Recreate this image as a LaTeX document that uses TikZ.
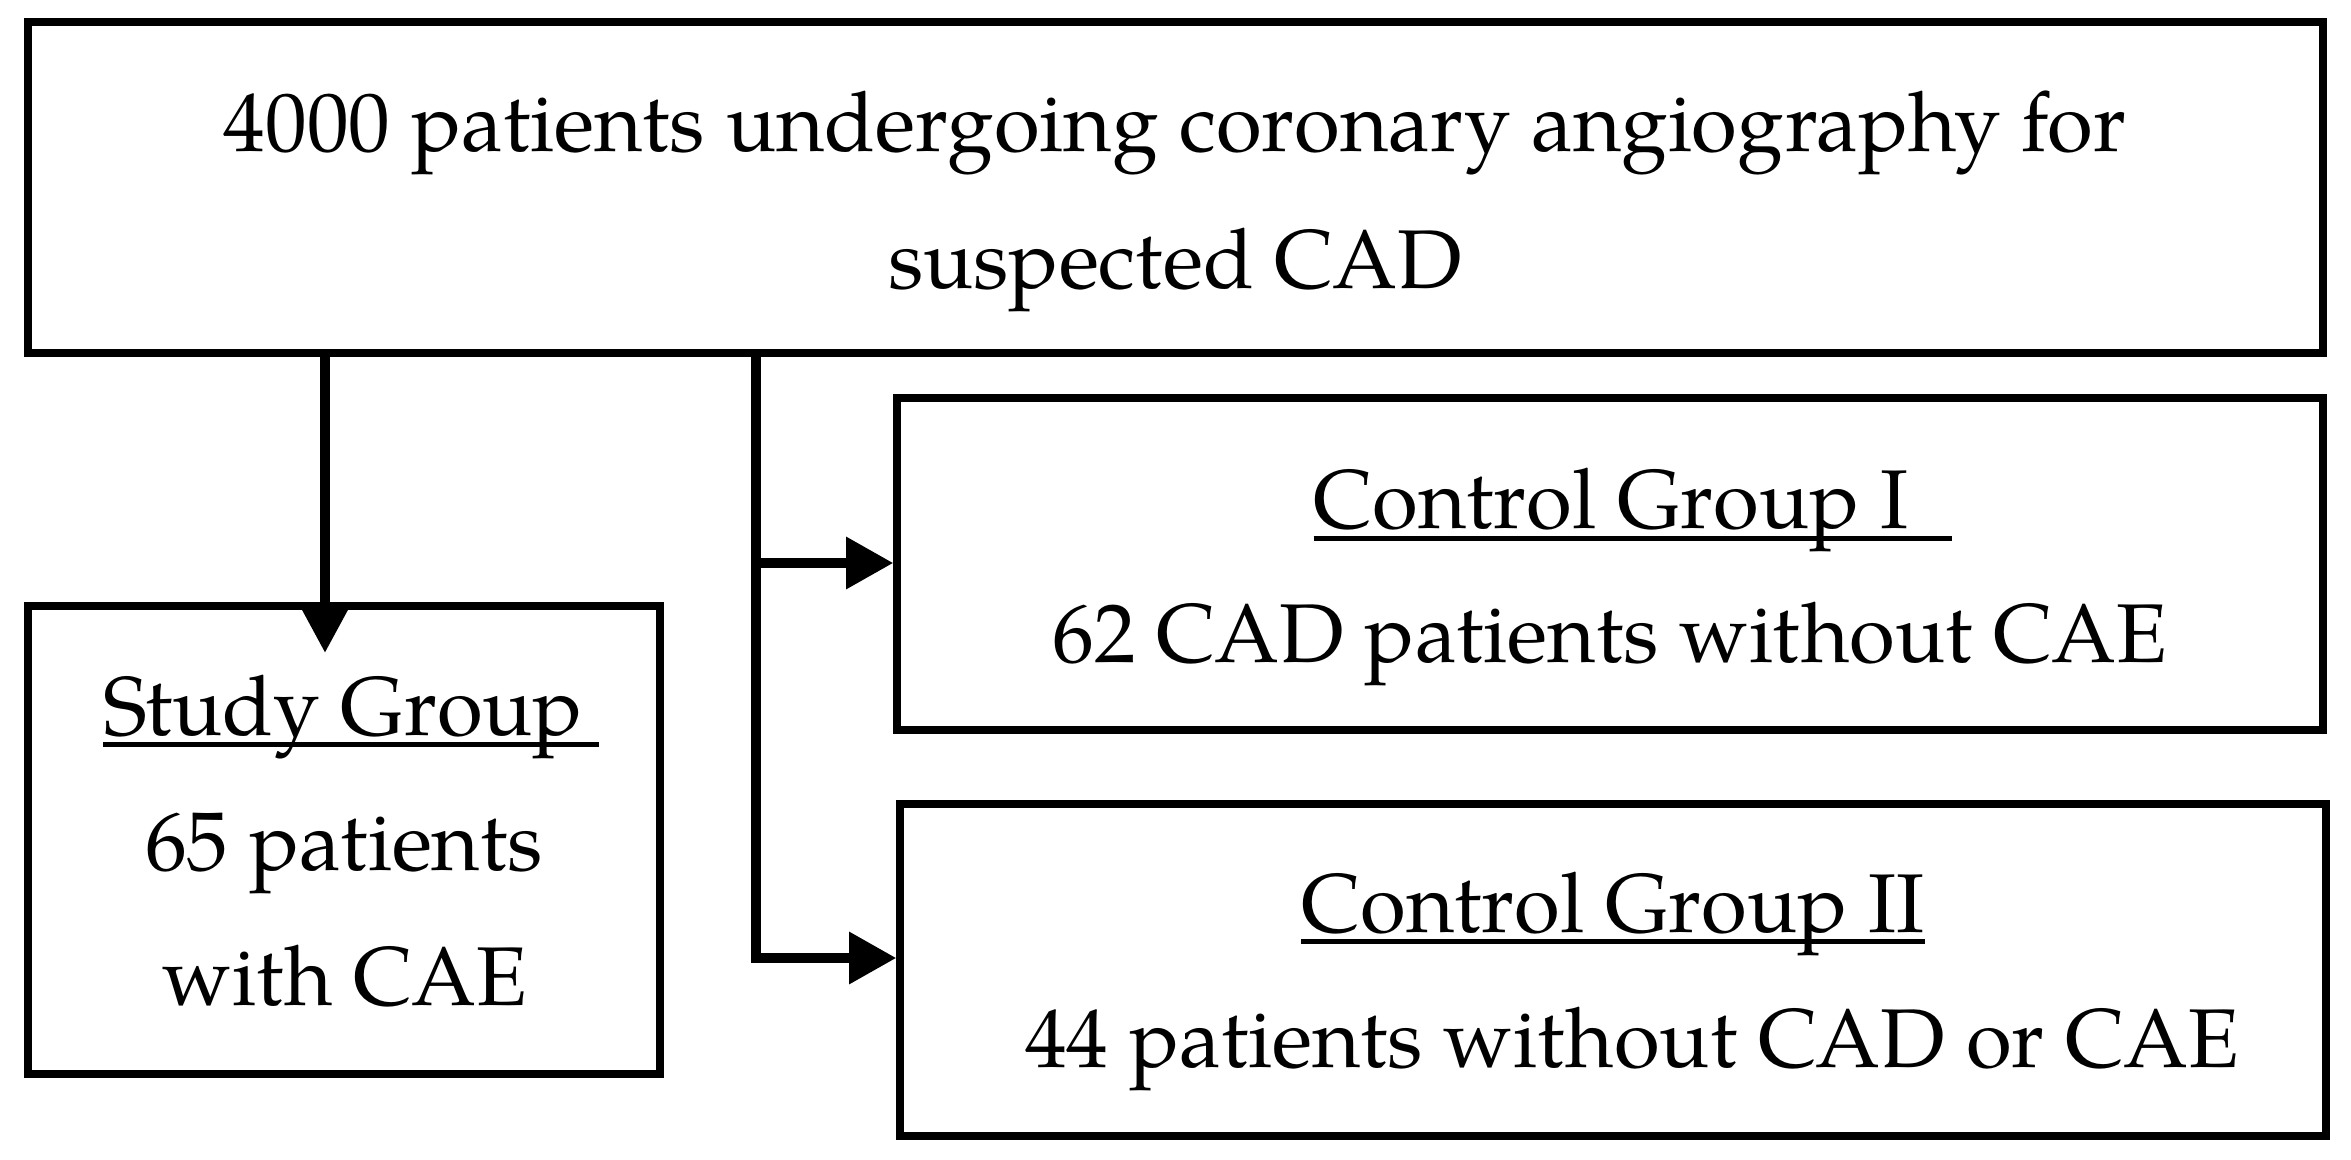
\documentclass[tikz,border=0pt]{standalone}
\usepackage{fontspec}
\setmainfont{TeX Gyre Pagella}
\usetikzlibrary{arrows.meta,fit,calc}
\newcommand\myul[2]{\setbox0\hbox{#1}\rlap{\rule[-3.7pt]{\dimexpr\wd0+#2\relax}{1.6pt}}\box0}
\begin{document}
\begin{tikzpicture}[x=0.3pt,y=-0.3pt,
  box/.style={draw,line width=2.2pt,inner sep=0pt},
  txt/.style={anchor=base,inner sep=0pt,font=\fontsize{25pt}{30pt}\selectfont},
  lnk/.style={line width=3pt},
  arrS/.style={lnk,-{Triangle[width=13.5pt,length=13.5pt]}},
  arrC/.style={lnk,-{Triangle[width=15pt,length=14.2pt]}}]
\useasboundingbox (0,0) rectangle (2351,1160);
% boxes
\node[box,fit={(28,22)(2323,353)}] (top) {};
\node[box,fit={(28,606)(660,1074)}] (study) {};
\node[box,fit={(897,398)(2323,730)}] (c1) {};
\node[box,fit={(900,804)(2326,1136)}] (c2) {};
% texts
\node[txt] (t1) at (1175,152) {4000 patients undergoing coronary angiography for};
\node[txt] (t2) at (1175,289) {suspected CAD};
\node[txt] (s1) at (343,735) {\myul{Study Group}{4.8pt}};
\node[txt] (s2) at (344,870) {65 patients};
\node[txt] (s3) at (345,1005) {with CAE};
\node[txt] (k1) at (1611,529) {\myul{Control Group I}{13pt}};
\node[txt] (k2) at (1610,663) {62 CAD patients without CAE};
\node[txt] (m1) at (1613,932) {\myul{Control Group II}{0pt}};
\node[txt] (m2) at (1632,1067) {44 patients without CAD or CAE};
% connectors
\coordinate (stip) at (325,653);
\coordinate (b1) at (756,563);
\coordinate (b2) at (756,958);
\draw[arrS] (top.south -| stip) -- (stip);
\draw[arrC] (top.south -| b2) |- (b2 -| c2.west);
\draw[arrC] (b1) -- (b1 -| c1.west);
\end{tikzpicture}
\end{document}
